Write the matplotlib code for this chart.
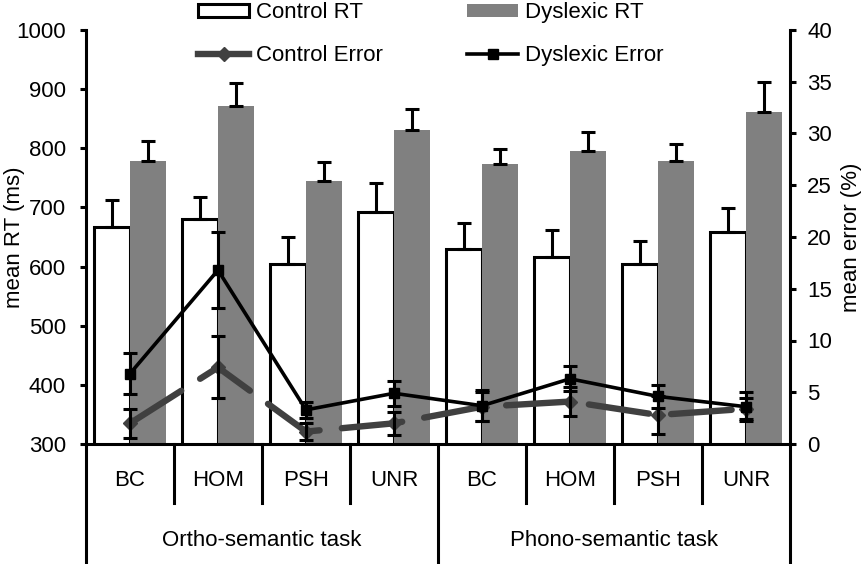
import matplotlib
matplotlib.use("Agg")
import matplotlib.pyplot as plt
from matplotlib.lines import Line2D
import numpy as np

plt.rcParams['font.family'] = ['Liberation Sans', 'DejaVu Sans']

conditions = ['BC', 'HOM', 'PSH', 'UNR', 'BC', 'HOM', 'PSH', 'UNR']
tasks = ['Ortho-semantic task', 'Phono-semantic task']

control_rt = [667, 680, 605, 692, 629, 617, 604, 659]
control_rt_se = [46, 38, 45, 49, 44, 45, 40, 40]
dyslexic_rt = [779, 871, 744, 831, 773, 795, 778, 862]
dyslexic_rt_se = [33, 40, 33, 35, 26, 32, 29, 50]

control_error = [2.0, 7.4, 1.2, 2.0, 3.6, 4.1, 2.8, 3.4]
control_error_se = [1.4, 3.0, 0.8, 1.1, 1.4, 1.4, 1.8, 1.0]
dyslexic_error = [6.8, 16.8, 3.3, 4.9, 3.7, 6.3, 4.6, 3.6]
dyslexic_error_se = [2.0, 3.7, 0.8, 1.2, 1.5, 1.2, 1.1, 1.4]

FS = 16
x = np.arange(len(conditions))
w = 0.41

fig = plt.figure(figsize=(8.66, 5.64), dpi=100)
ax = fig.add_axes([86 / 866, 120 / 564, 704 / 866, 414 / 564])

ctrl_bars = ax.bar(x - w / 2, control_rt, w, color='white', edgecolor='black',
                   linewidth=2.2, label='Control RT', zorder=2)
dys_bars = ax.bar(x + w / 2, dyslexic_rt, w, color='#808080', edgecolor='none',
                  label='Dyslexic RT', zorder=2)
ax.errorbar(x - w / 2, control_rt, yerr=[np.zeros(8), control_rt_se], fmt='none',
            ecolor='black', elinewidth=2.2, capsize=5, capthick=2.2, zorder=3)
ax.errorbar(x + w / 2, dyslexic_rt, yerr=[np.zeros(8), dyslexic_rt_se], fmt='none',
            ecolor='black', elinewidth=2.2, capsize=5, capthick=2.2, zorder=3)

ax.set_xlim(-0.5, len(conditions) - 0.5)
ax.set_ylim(300, 1000)
ax.set_yticks(range(300, 1001, 100))
ax.set_xticks([])
for s in ['top', 'right']:
    ax.spines[s].set_visible(False)
for s in ['left', 'bottom']:
    ax.spines[s].set_linewidth(2.2)
ax.tick_params(axis='y', direction='out', length=4.5, width=2.2, labelsize=FS, pad=10)

ax2 = ax.twinx()
ax2.plot(x, control_error, color='#404040', lw=4.6, marker='D', markersize=7,
         dashes=(9.5, 3.5), dash_capstyle='round', zorder=4)
ax2.errorbar(x, control_error, yerr=control_error_se, fmt='none', ecolor='black',
             elinewidth=2.2, capsize=5, capthick=2.2, zorder=5)
ax2.plot(x, dyslexic_error, color='black', lw=2.6, marker='s', markersize=6.5, zorder=6)
ax2.errorbar(x, dyslexic_error, yerr=dyslexic_error_se, fmt='none', ecolor='black',
             elinewidth=2.2, capsize=5, capthick=2.2, zorder=6)
ax2.set_ylim(0, 40)
ax2.set_yticks(range(0, 41, 5))
for s in ['top', 'left', 'bottom']:
    ax2.spines[s].set_visible(False)
ax2.spines['right'].set_linewidth(2.2)
ax2.tick_params(axis='y', direction='out', length=4.5, width=2.2, labelsize=FS, pad=8)

# hierarchical category axis below the plot
tr = ax.get_xaxis_transform()
for i, c in enumerate(conditions):
    ax.text(i, -0.087, c, transform=tr, ha='center', va='center', fontsize=FS)
for b in np.arange(0.5, len(conditions) - 1, 1):
    if b == 3.5:
        continue
    ax.plot([b, b], [0, -0.143], transform=tr, color='black', lw=2.2, clip_on=False)
for b in [-0.5, 3.5, 7.5]:
    ax.plot([b, b], [0, -0.3], transform=tr, color='black', lw=2.2, clip_on=False,
            solid_capstyle='butt')
for k, t in enumerate(tasks):
    ax.text(1.5 + 4 * k, -0.232, t, transform=tr, ha='center', va='center', fontsize=FS)

fig.text(15 / 866, 1 - 237 / 564, 'mean RT (ms)', rotation=90, ha='center', va='center', fontsize=FS)
fig.text(852 / 866, 1 - 237 / 564, 'mean error (%)', rotation=90, ha='center', va='center', fontsize=FS)

handles = [ctrl_bars,
           Line2D([], [], color='#404040', lw=4.6, marker='D', markersize=7),
           dys_bars,
           Line2D([], [], color='black', lw=2.6, marker='s', markersize=6.5)]
labels = ['Control RT', 'Control Error', 'Dyslexic RT', 'Dyslexic Error']
fig.legend(handles, labels, loc='upper left', bbox_to_anchor=(198 / 866, 0.996),
           ncol=2, frameon=False, fontsize=FS, borderpad=0, borderaxespad=0,
           handlelength=2.3, handleheight=0.5, handletextpad=0.3,
           columnspacing=3.8, labelspacing=1.0)

fig.savefig('out.png', dpi=100)
